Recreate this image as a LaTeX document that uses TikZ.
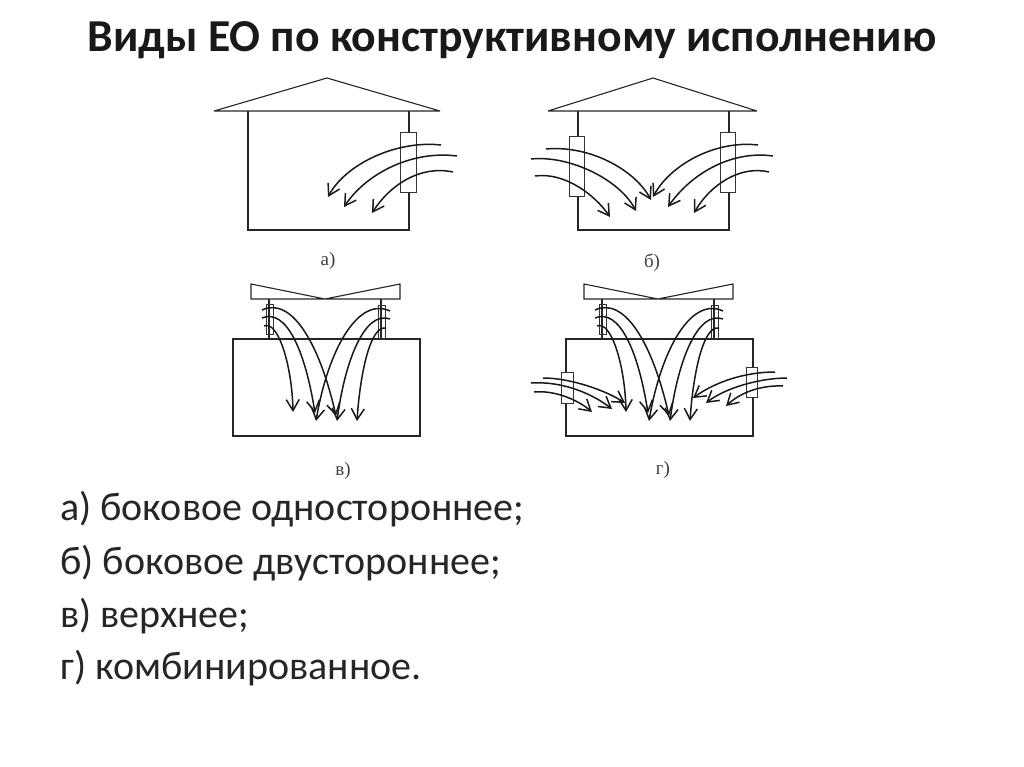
\documentclass[tikz,border=0pt]{standalone}
\usepackage{fontspec}
\setmainfont{Carlito}
\newfontfamily\capfont{Liberation Serif}
\usetikzlibrary{arrows.meta}
\tikzset{
  wall/.style={draw=black!85,line width=1.1pt,miter limit=2},
  sash/.style={draw=black!80,line width=1pt,fill=white},
  flow/.style={-{Straight Barb[length=11pt,width=13pt]},draw=black!90,line width=1.5pt},
  capt/.style={font=\capfont\fontsize{19}{21}\selectfont,text=black!75},
  titleText/.style={font=\bfseries\fontsize{45.7}{50}\selectfont,text=black!90},
  itemText/.style={anchor=base west,inner sep=0pt,font=\fontsize{40}{44}\selectfont,text=black!85}
}
% roof with top lantern, sashes and flows of the lower pair
\newcommand{\lantern}[1]{
  \begin{scope}[xshift=#1]
    \draw[wall] (251,284)--(325,299)--(400,284)--(400,299)--(251,299)--cycle;
    \draw[wall] (269,299)--(269,340) (381,299)--(381,340);
    \draw[sash,fill=none] (266,304) rectangle (273,334);
    \draw[sash,fill=none] (378,305) rectangle (385,338);
    \draw[flow] (262,310) .. controls (292,296) and (320,345) .. (336,416);
    \draw[flow] (262,318) .. controls (286,308) and (305,350) .. (315,413);
    \draw[flow] (264,326) .. controls (278,320) and (292,365) .. (293,412);
    \draw[flow] (390,311) .. controls (358,296) and (328,350) .. (316,421);
    \draw[flow] (390,319) .. controls (365,310) and (345,360) .. (337,421);
    \draw[flow] (386,328) .. controls (370,325) and (360,375) .. (357,421);
  \end{scope}
}
\begin{document}
\begin{tikzpicture}[x=1pt,y=-1pt]
  \useasboundingbox[fill=white] (0,0) rectangle (1024,767);
  \node[titleText] (heading) at (512,40) {Виды ЕО по конструктивному исполнению};

  % a
  \draw[wall] (214,111)--(327,78)--(440,111)--cycle;
  \draw[wall] (248,111)--(248,230)--(409,230)--(409,111);
  \draw[sash] (400,133) rectangle (416,193);
  \draw[flow] (441,145) .. controls (395,140) and (345,165) .. (328,197);
  \draw[flow] (457,156) .. controls (410,150) and (365,175) .. (344,207);
  \draw[flow] (453,172) .. controls (420,165) and (390,185) .. (372,213);
  \node[capt] (capA) at (328,261) {а)};

  % b
  \draw[wall] (548,111)--(653,78)--(757,111)--cycle;
  \draw[wall] (578,111)--(578,230)--(729,230)--(729,111);
  \draw[sash] (569,137) rectangle (584,197);
  \draw[sash] (720,133) rectangle (735,193);
  \draw[flow] (758,145) .. controls (715,140) and (670,165) .. (653,197);
  \draw[flow] (773,156) .. controls (730,150) and (690,175) .. (668,207);
  \draw[flow] (769,172) .. controls (740,165) and (710,185) .. (694,213);
  \draw[flow] (546,149) .. controls (590,145) and (635,170) .. (651,200);
  \draw[flow] (531,159) .. controls (570,155) and (620,180) .. (636,211);
  \draw[flow] (535,176) .. controls (565,172) and (595,195) .. (610,217);
  \node[capt] (capB) at (652,263) {б)};

  % v
  \draw[wall] (233,339) rectangle (420,436);
  \lantern{0pt}
  \node[capt] (capV) at (343,471) {в)};

  % g
  \draw[wall] (566,339) rectangle (753,436);
  \lantern{333pt}
  \draw[sash] (561,372) rectangle (573,403);
  \draw[sash] (746,367) rectangle (757,397);
  \draw[flow] (543,378) .. controls (570,378) and (605,390) .. (625,403);
  \draw[flow] (531,383) .. controls (560,381) and (590,392) .. (612,409);
  \draw[flow] (534,392) .. controls (555,390) and (578,400) .. (592,412);
  \draw[flow] (775,372) .. controls (745,372) and (715,382) .. (693,398);
  \draw[flow] (787,378) .. controls (760,378) and (725,388) .. (706,403);
  \draw[flow] (783,386) .. controls (760,385) and (740,393) .. (726,406);
  \node[capt] (capG) at (663,470) {г)};

  \node[itemText] (itemA) at (60,520) {а) боковое одностороннее;};
  \node[itemText] (itemB) at (60,574) {б) боковое двустороннее;};
  \node[itemText] (itemV) at (60,627) {в) верхнее;};
  \node[itemText] (itemG) at (60,679) {г) комбинированное.};
\end{tikzpicture}
\end{document}
